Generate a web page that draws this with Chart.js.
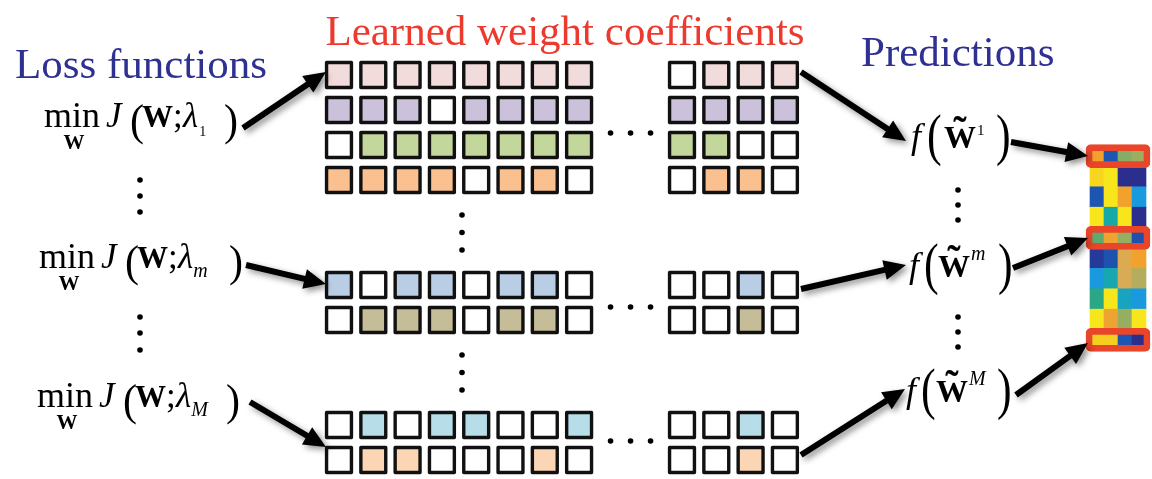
<!DOCTYPE html>
<html>
<head>
<meta charset="utf-8">
<script src="https://cdn.jsdelivr.net/npm/chart.js@4.4.1/dist/chart.umd.min.js"></script>
<style>
  html, body { margin: 0; padding: 0; background: #fff; overflow: hidden; }
  canvas { display: block; }
</style>
</head>
<body>
<canvas id="c" width="1152" height="479"></canvas>
<script>
// ---- data -------------------------------------------------------------
// Sparsity mask of the learned weights for each penalty setting:
// 1 = coefficient kept, 0 = coefficient shrunk to zero.
// First 8 characters are the leading coefficients, last 4 the trailing ones.
const weightMasks = [
  '111111110111',
  '111011111111',
  '011111111100',
  '111101100110',
  '101101100010',
  '011101100010',
  '010110010010',
  '011000100010'
];
// which lambda group (1, m, M) each mask row belongs to
const weightGroup = [0, 0, 0, 0, 1, 1, 2, 2];
const weightColors = ['#f2dcdb', '#ccc1da', '#c3d69b', '#fac090', '#b9cde5', '#c4bd97', '#b7dee8', '#fcd5b5'];

// Prediction matrix (rows = samples, cols = models), scaled 0..1
const predValues = [
  [0.80, 0.12, 0.56, 0.59],
  [0.93, 1.00, 0.00, 0.00],
  [0.12, 1.00, 0.80, 0.25],
  [1.00, 0.37, 1.00, 0.00],
  [0.52, 0.78, 0.58, 0.10],
  [0.04, 0.11, 0.70, 0.80],
  [0.25, 0.35, 0.68, 0.62],
  [0.45, 1.00, 0.32, 0.25],
  [1.00, 0.78, 0.58, 1.00],
  [0.90, 0.90, 0.12, 0.00]
];
// rows produced by f(W~1), f(W~m), f(W~M)
const highlightRows = [0, 4, 9];

const headings = ['Loss functions', 'Learned weight coefficients', 'Predictions'];
const lossSubs = ['1', 'm', 'M'];

// ---- layout -----------------------------------------------------------
const COL0 = 339, COL_PITCH = 34.3;
const ROW0 = 75, ROW_PITCH = 35;
const GROUP_SLOT = [0, 6, 10];           // first grid slot of each group
const colSlot = c => (c < 8 ? c : c + 2); // two slots left open for the ellipsis
const HEAT_X0 = 1090, HEAT_COL = 14, HEAT_Y0 = 146, HEAT_ROW = 20.4;

const heatStops = [
  [0.00, '#2b2e8c'], [0.12, '#1c56b2'], [0.25, '#1a9ade'], [0.37, '#16a9a8'],
  [0.47, '#2fa87c'], [0.57, '#8fae62'], [0.67, '#d8ac5a'], [0.80, '#f2a22c'],
  [0.90, '#f5cf20'], [1.00, '#f8e61c']
];
function hex(c) { return [1, 3, 5].map(i => parseInt(c.slice(i, i + 2), 16)); }
function colormap(v) {
  for (let i = 1; i < heatStops.length; i++) {
    const [p1, c1] = heatStops[i];
    const [p0, c0] = heatStops[i - 1];
    if (v <= p1) {
      const t = (v - p0) / (p1 - p0 || 1);
      const a = hex(c0), b = hex(c1);
      return 'rgb(' + a.map((x, k) => Math.round(x + (b[k] - x) * t)).join(',') + ')';
    }
  }
  return heatStops[heatStops.length - 1][1];
}

// slot index within the grid for each mask row
const rowSlots = weightGroup.map((g, r) => GROUP_SLOT[g] + weightGroup.slice(0, r).filter(x => x === g).length);

const cellDatasets = weightMasks.map((mask, r) => ({
  type: 'scatter',
  data: mask.split('').map((m, c) => ({
    x: COL0 + colSlot(c) * COL_PITCH,
    y: ROW0 + rowSlots[r] * ROW_PITCH,
    on: m === '1'
  })),
  pointStyle: 'rect',
  pointRadius: 17.6,
  pointHoverRadius: 17.6,
  pointBorderWidth: 3.4,
  pointBorderColor: '#111',
  pointBackgroundColor: ctx => (ctx.raw && ctx.raw.on ? weightColors[r] : '#ffffff')
}));

// ellipsis marks
const dotPts = [];
[133, 307, 441].forEach(y => [-20, 0, 20].forEach(d => dotPts.push({ x: COL0 + 8.5 * COL_PITCH + d, y })));
[4, 4.5, 5, 8, 8.5, 9].forEach(s => dotPts.push({ x: 462, y: ROW0 + s * ROW_PITCH }));
[180, 196, 212, 317, 333, 350].forEach(y => dotPts.push({ x: 140, y }));
[190, 205, 220, 317, 332, 347].forEach(y => dotPts.push({ x: 958, y }));

const heatData = [];
predValues.forEach((row, r) => row.forEach((v, c) => heatData.push({
  x: HEAT_X0 + (c + 0.5) * HEAT_COL,
  y: [HEAT_Y0 + r * HEAT_ROW, HEAT_Y0 + (r + 1) * HEAT_ROW],
  v
})));
const frameData = highlightRows.map(r => {
  const cy = HEAT_Y0 + (r + 0.5) * HEAT_ROW;
  return { x: HEAT_X0 + 2 * HEAT_COL, y: [cy - 11.5, cy + 11.5] };
});

// ---- annotation drawing ----------------------------------------------
const SERIF = '"Liberation Serif", "Times New Roman", "DejaVu Serif", serif';
const fnt = (style, size) => `${style} ${size}px ${SERIF}`;

function arrow(ctx, x0, y0, x1, y1) {
  const a = Math.atan2(y1 - y0, x1 - x0);
  const hl = 22, hw = 10, sw = 3;
  const nx = -Math.sin(a), ny = Math.cos(a);
  const bx = x1 - hl * Math.cos(a), by = y1 - hl * Math.sin(a);
  ctx.save();
  ctx.shadowColor = 'rgba(0,0,0,0.45)';
  ctx.shadowBlur = 6;
  ctx.shadowOffsetX = 3;
  ctx.shadowOffsetY = 3;
  ctx.beginPath();
  ctx.moveTo(x0 + nx * sw, y0 + ny * sw);
  ctx.lineTo(bx + nx * sw, by + ny * sw);
  ctx.lineTo(bx + nx * hw, by + ny * hw);
  ctx.lineTo(x1, y1);
  ctx.lineTo(bx - nx * hw, by - ny * hw);
  ctx.lineTo(bx - nx * sw, by - ny * sw);
  ctx.lineTo(x0 - nx * sw, y0 - ny * sw);
  ctx.closePath();
  ctx.fillStyle = '#000';
  ctx.fill();
  ctx.restore();
}

// a parenthesis stretched to a given height, centred on cy
function paren(ctx, ch, x, cy, h) {
  ctx.save();
  ctx.font = fnt('', 40);
  const m = ctx.measureText(ch);
  const gh = m.actualBoundingBoxAscent + m.actualBoundingBoxDescent;
  const s = h / gh;
  ctx.translate(x, cy);
  ctx.scale(Math.min(1.1, 0.35 + 0.65 * s), s);
  ctx.fillText(ch, 0, (m.actualBoundingBoxAscent - m.actualBoundingBoxDescent) / 2);
  ctx.restore();
}

function put(ctx, t, f, x, y, align) {
  ctx.font = f;
  ctx.textAlign = align || 'left';
  ctx.fillText(t, x, y);
  ctx.textAlign = 'left';
  return ctx.measureText(t).width;
}

function lossFormula(ctx, x, y, sub, close) {
  const wMin = put(ctx, 'min', fnt('', 36), x, y);
  put(ctx, 'W', fnt('bold', 21), x + wMin / 2 + 2, y + 22, 'center');
  put(ctx, 'J', fnt('italic', 35), x + 62, y);
  paren(ctx, '(', x + 86, y - 2, 40);
  put(ctx, 'W', fnt('bold', 31), x + 98, y);
  put(ctx, ';', fnt('', 35), x + 129, y);
  const wl = put(ctx, 'λ', fnt('italic', 35), x + 139, y);
  if (sub === '1') put(ctx, sub, fnt('', 14), x + 139 + wl + 1, y + 9);
  else put(ctx, sub, fnt('italic', 20), x + 139 + wl, y + 9);
  paren(ctx, ')', x + close, y - 2, 40);
}

function predFormula(ctx, x, y, sup, dxOpen, dxW, dxClose) {
  put(ctx, 'f', fnt('italic', 36), x, y);
  paren(ctx, '(', x + dxOpen, y - 7, 52);
  const ww = put(ctx, 'W', fnt('bold', 32), x + dxW, y);
  put(ctx, '˜', fnt('bold', 40), x + dxW + ww / 2, y - 4, 'center');
  if (sup === '1') put(ctx, sup, fnt('', 15), x + dxW + ww + 1, y - 13);
  else put(ctx, sup, fnt('italic', 20), x + dxW + ww + 1, y - 17);
  paren(ctx, ')', x + dxClose, y - 7, 52);
}

const diagramPlugin = {
  id: 'diagram',
  afterDatasetsDraw(chart) {
    const ctx = chart.ctx;
    ctx.save();
    ctx.textBaseline = 'alphabetic';

    // headings
    ctx.fillStyle = '#2e3192';
    put(ctx, headings[0], fnt('', 43), 15, 78);
    put(ctx, headings[2], fnt('', 43), 861, 66);
    ctx.fillStyle = '#ec3a2f';
    put(ctx, headings[1], fnt('', 43), 565, 45, 'center');

    // loss functions
    ctx.fillStyle = '#000';
    lossFormula(ctx, 44, 127, lossSubs[0], 180);
    lossFormula(ctx, 39, 268, lossSubs[1], 190);
    lossFormula(ctx, 37, 407, lossSubs[2], 189);

    // predictions
    predFormula(ctx, 911, 148, '1', 16, 33, 85);
    predFormula(ctx, 909, 277, 'm', 15, 29, 89);
    predFormula(ctx, 906, 402, 'M', 15, 30, 91);

    // arrows: loss -> weights -> predictions -> prediction matrix
    arrow(ctx, 243, 128, 326, 72);
    arrow(ctx, 246, 265, 326, 284);
    arrow(ctx, 250, 402, 326, 447);
    arrow(ctx, 801, 72, 906, 141);
    arrow(ctx, 801, 289, 906, 265);
    arrow(ctx, 801, 455, 905, 389);
    arrow(ctx, 1011, 142, 1088, 156);
    arrow(ctx, 1013, 268, 1088, 238);
    arrow(ctx, 1016, 395, 1088, 343);
    ctx.restore();
  },
  beforeDatasetsDraw(chart) {
    chart.ctx.lineJoin = 'round';
  }
};

const hidden = { type: 'linear', min: 0, max: 1152, display: false, offset: false };

new Chart(document.getElementById('c'), {
  type: 'scatter',
  data: {
    datasets: [
      {
        type: 'bar',
        xAxisID: 'xh',
        data: heatData,
        grouped: false,
        categoryPercentage: 1,
        barPercentage: 1,
        maxBarThickness: HEAT_COL,
        backgroundColor: ctx => (ctx.raw ? colormap(ctx.raw.v) : '#fff'),
        borderWidth: 0,
        order: 3
      },
      {
        type: 'bar',
        xAxisID: 'xf',
        data: frameData,
        grouped: false,
        categoryPercentage: 1,
        barPercentage: 1,
        maxBarThickness: 4 * HEAT_COL + 8,
        backgroundColor: 'rgba(0,0,0,0)',
        borderColor: '#e8452a',
        borderWidth: 6,
        borderSkipped: false,
        borderRadius: 5,
        order: 2
      },
      ...cellDatasets.map(d => Object.assign(d, { order: 1 })),
      {
        type: 'scatter',
        data: dotPts,
        pointStyle: 'circle',
        pointRadius: 2.8,
        pointBorderWidth: 0,
        pointBackgroundColor: '#000',
        order: 0
      }
    ]
  },
  options: {
    responsive: false,
    maintainAspectRatio: false,
    devicePixelRatio: 1,
    animation: false,
    events: [],
    layout: { padding: 0, autoPadding: false },
    plugins: { legend: { display: false }, tooltip: { enabled: false }, title: { display: false } },
    scales: {
      x: Object.assign({ axis: 'x', position: 'bottom' }, hidden),
      xh: Object.assign({ axis: 'x', position: 'bottom' }, hidden),
      xf: Object.assign({ axis: 'x', position: 'bottom' }, hidden),
      y: { type: 'linear', axis: 'y', min: 0, max: 479, reverse: true, display: false, stacked: false, offset: false }
    }
  },
  plugins: [diagramPlugin]
});
</script>
</body>
</html>
